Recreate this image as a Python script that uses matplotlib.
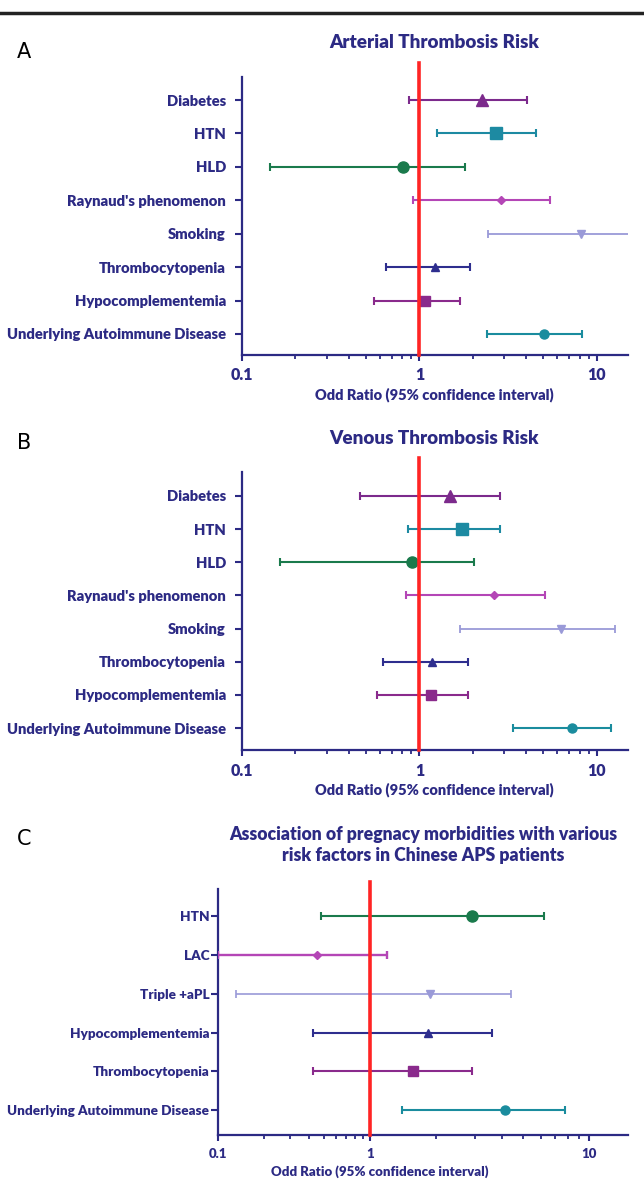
import numpy as np
import matplotlib
matplotlib.use("Agg")
import matplotlib.pyplot as plt
from matplotlib.ticker import FixedLocator, NullFormatter, LogLocator
from matplotlib.lines import Line2D

plt.rcParams['font.family'] = ['Lato', 'DejaVu Sans']

NAVY = "#2c2a84"
RED = "#ff2424"
WT = "heavy"

# --- data ---
factors_ab = ["Diabetes", "HTN", "HLD", "Raynaud's phenomenon", "Smoking",
              "Thrombocytopenia", "Hypocomplementemia", "Underlying Autoimmune Disease"]

art_or = [2.26, 2.72, 0.81, 2.89, 8.15, 1.23, 1.07, 5.02]
art_lo = [0.87, 1.26, 0.144, 0.92, 2.43, 0.65, 0.555, 2.41]
art_hi = [4.04, 4.54, 1.80, 5.47, 22.0, 1.92, 1.70, 8.23]

ven_or = [1.48, 1.75, 0.91, 2.65, 6.32, 1.18, 1.16, 7.26]
ven_lo = [0.46, 0.86, 0.163, 0.84, 1.69, 0.62, 0.58, 3.39]
ven_hi = [2.86, 2.84, 2.02, 5.08, 12.7, 1.88, 1.87, 12.05]

factors_c = ["HTN", "LAC", "Triple +aPL", "Hypocomplementemia", "Thrombocytopenia",
             "Underlying Autoimmune Disease"]
preg_or = [2.93, 0.45, 1.89, 1.84, 1.58, 4.14]
preg_lo = [0.48, 0.10, 0.131, 0.42, 0.42, 1.41]
preg_hi = [6.24, 1.20, 4.41, 3.59, 2.93, 7.72]

# styles per row (colour, marker, size, line width)
style_ab = [("#7c2a8c", "^", 8, 1.5), ("#1d8aa2", "s", 8, 1.5), ("#1a7a4c", "o", 8, 1.5),
            ("#b446b6", "D", 4, 1.5), ("#9a9ad8", "v", 6, 1.3), ("#2e2e8e", "^", 6, 1.5),
            ("#8a2a8c", "s", 6.5, 1.5), ("#1a8c9e", "o", 6.5, 1.5)]
style_c = [("#1a7a4c", "o", 8, 1.5), ("#b446b6", "D", 4, 1.7), ("#9a9ad8", "v", 6, 1.2),
           ("#2e2e8e", "^", 6, 1.5), ("#8a2a8c", "s", 7, 1.5), ("#1a8c9e", "o", 6.5, 1.5)]

fig = plt.figure(figsize=(6.44, 11.81), dpi=100)
H = 1181.0
W = 644.0

def box(l, r, t, b):
    return [l / W, 1 - b / H, (r - l) / W, (b - t) / H]

def draw(ax, labels, orr, lo, hi, styles, ylim, redtop, lab_fs, lab_pad):
    for i in range(len(labels)):
        c, m, ms, lw = styles[i]
        ax.errorbar([orr[i]], [i], xerr=[[orr[i] - lo[i]], [hi[i] - orr[i]]],
                    fmt=m, color=c, ms=ms, elinewidth=lw, capsize=3, capthick=lw,
                    mec=c, mfc=c, zorder=3)
    ax.axvline(1, ymin=0, ymax=redtop, color=RED, lw=2.6, clip_on=False, zorder=4)
    ax.set_ylim(*ylim)
    ax.set_xlim(0.1, 15)
    ax.set_yticks(range(len(labels)))
    ax.set_yticklabels(labels, fontsize=lab_fs, fontweight=WT, color=NAVY)
    ax.tick_params(axis="y", length=5, width=1.5, color=NAVY, pad=lab_pad)
    for s in ["top", "right"]:
        ax.spines[s].set_visible(False)
    for s in ["left", "bottom"]:
        ax.spines[s].set_color(NAVY)
        ax.spines[s].set_linewidth(1.6)

# panel A
axA = fig.add_axes(box(242, 628, 77, 355))
axA.set_xscale("log")
draw(axA, factors_ab, art_or, art_lo, art_hi, style_ab, (7.63, -0.69), 1.05, 10.6, 6.5)

# panel B
axB = fig.add_axes(box(242, 628, 472, 750))
axB.set_xscale("log")
draw(axB, factors_ab, ven_or, ven_lo, ven_hi, style_ab, (7.66, -0.72), 1.05, 10.6, 6.5)

for ax in (axA, axB):
    ax.set_xticks([0.1, 1, 10])
    ax.set_xticklabels(["0.1", "1", "10"])
    ax.xaxis.set_minor_locator(LogLocator(base=10, subs=np.arange(2, 10)))
    ax.xaxis.set_minor_formatter(NullFormatter())
    ax.tick_params(axis="x", which="major", length=4, width=1.5, color=NAVY,
                   labelsize=11.5, labelcolor=NAVY, pad=5)
    ax.tick_params(axis="x", which="minor", length=3, width=1.3, color=NAVY)
    for t in ax.get_xticklabels():
        t.set_fontweight(WT)

# panel C: the first decade is drawn narrower than the second
k = 152.0 / 220.0
def fwd(x):
    l = np.log10(np.clip(x, 1e-9, None))
    return np.where(l < 0, l * k, l)
def inv(y):
    return 10 ** np.where(y < 0, y / k, y)

axC = fig.add_axes(box(218, 628, 889, 1135))
axC.set_xscale("function", functions=(fwd, inv))
draw(axC, factors_c, preg_or, preg_lo, preg_hi, style_c, (5.64, -0.70), 1.028, 9.7, 1.2)
axC.xaxis.set_major_locator(FixedLocator([0.1, 1, 10]))
axC.set_xticklabels(["0.1", "1", "10"])
minor_c = list(np.arange(0.2, 1.0, 0.1)) + list(np.arange(2, 10))
axC.xaxis.set_minor_locator(FixedLocator(minor_c))
axC.xaxis.set_minor_formatter(NullFormatter())
axC.tick_params(axis="x", which="major", length=4, width=1.5, color=NAVY,
                labelsize=9.5, labelcolor=NAVY, pad=5)
axC.tick_params(axis="x", which="minor", length=3, width=1.3, color=NAVY)
for t in axC.get_xticklabels():
    t.set_fontweight(WT)

# titles, x labels, panel letters
tkw = dict(color=NAVY, fontweight=WT, ha="center", va="center")
fig.text(434 / W, 1 - 43 / H, "Arterial Thrombosis Risk", fontsize=13.6, **tkw)
fig.text(434 / W, 1 - 438 / H, "Venous Thrombosis Risk", fontsize=13.6, **tkw)
fig.text(423 / W, 1 - 845 / H,
         "Association of pregnacy morbidities with various\nrisk factors in Chinese APS patients",
         fontsize=12.7, linespacing=1.3, **tkw)

fig.text(434 / W, 1 - 395 / H, "Odd Ratio (95% confidence interval)", fontsize=10.5, **tkw)
fig.text(434 / W, 1 - 790 / H, "Odd Ratio (95% confidence interval)", fontsize=10.5, **tkw)
fig.text(380 / W, 1 - 1172 / H, "Odd Ratio (95% confidence interval)", fontsize=9.5, **tkw)

for lab, y in [("A", 52), ("B", 443), ("C", 839)]:
    fig.text(24 / W, 1 - y / H, lab, fontsize=15, color="black", ha="center", va="center",
             family=["DejaVu Sans"])

# top rule
fig.add_artist(Line2D([0, 1], [1 - 13 / H, 1 - 13 / H], color="#222222", lw=2.5,
                      transform=fig.transFigure))

fig.savefig("out.png", dpi=100)
